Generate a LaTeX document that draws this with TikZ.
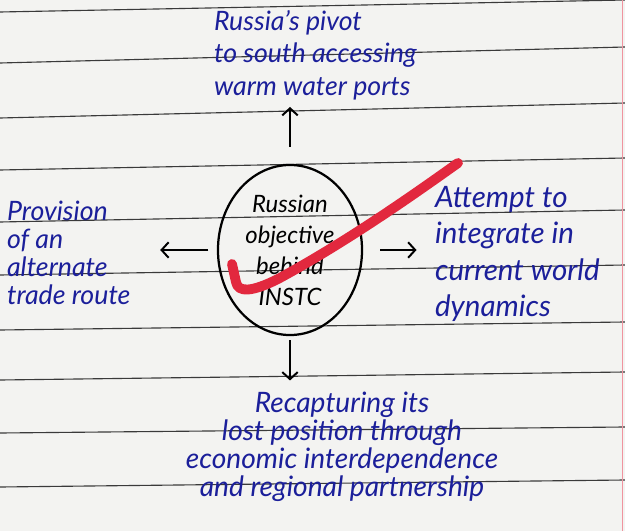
\documentclass[tikz,border=0pt]{standalone}
\usepackage{fontspec}
\setmainfont{Lato}
\usetikzlibrary{shapes.geometric,arrows.meta}
\definecolor{ink}{HTML}{1B1F9A}
\definecolor{paper}{HTML}{F3F3F1}
\definecolor{rule}{HTML}{3A3A3A}
\definecolor{tick}{HTML}{E2283E}
\begin{document}
\begin{tikzpicture}[x=0.025cm,y=-0.025cm,
        idea/.style={text=ink,inner sep=2pt},
        hub/.style={ellipse,draw,line width=1.6pt,minimum width=3.6cm,minimum height=4.25cm,inner sep=0pt,align=center,font=\itshape\fontsize{17}{22}\selectfont},
        link/.style={-{Straight Barb[length=5pt,width=11pt,line width=1.4pt]},line width=1.4pt}]
        % notebook page
        \fill[paper] (0,0) rectangle (625,531);
        \useasboundingbox (0,0) rectangle (625,531);
        \foreach \yl/\yr in {12/0,63/47,118/103,170/158,222/210,275/265,330/322,380/372,433/427,487/480}
            \draw[rule,line width=0.8pt] (0,\yl) -- (625,\yr);
        \draw[tick!50,line width=0.6pt] (622,0) -- (622,531);

        \node[hub] at (290,250) (instc) {Russian\\objective\\behind\\INSTC};

        \node[idea,anchor=west,align=left,font=\itshape\fontsize{19}{23}\selectfont] at (211,55) (pivot) {Russia's pivot\\to south accessing\\warm water ports};
        \node[idea,anchor=west,align=left,font=\itshape\fontsize{21}{26}\selectfont] at (432,254) (integrate) {Attempt to\\integrate in\\current world\\dynamics};
        \node[idea,anchor=west,align=left,font=\itshape\fontsize{19}{20}\selectfont] at (4,253) (route) {Provision\\of an\\alternate\\trade route};
        \node[idea,align=center,font=\itshape\fontsize{20}{20}\selectfont] at (342,447) (recapture) {Recapturing its\\lost position through\\economic interdependence\\and regional partnership};

        \draw[link,shorten <=12pt,shorten >=3pt] (instc.north) -- (instc.north |- pivot.south);
        \draw[link,shorten <=12pt,shorten >=11pt] (instc.east) -- (instc.east -| integrate.west);
        \draw[link,shorten <=6pt,shorten >=19pt] (instc.west) -- (instc.west -| route.east);
        \draw[link,shorten <=3pt,shorten >=6pt] (instc.south) -- (instc.south |- recapture.north);

        % red tick over the centre
        \draw[tick,line width=7pt,line cap=round,line join=round] (232,264) -- (236,282)
            .. controls (238,293) and (252,292) .. (278,279)
            .. controls (350,240) and (420,190) .. (458,163);
    \end{tikzpicture}
\end{document}
